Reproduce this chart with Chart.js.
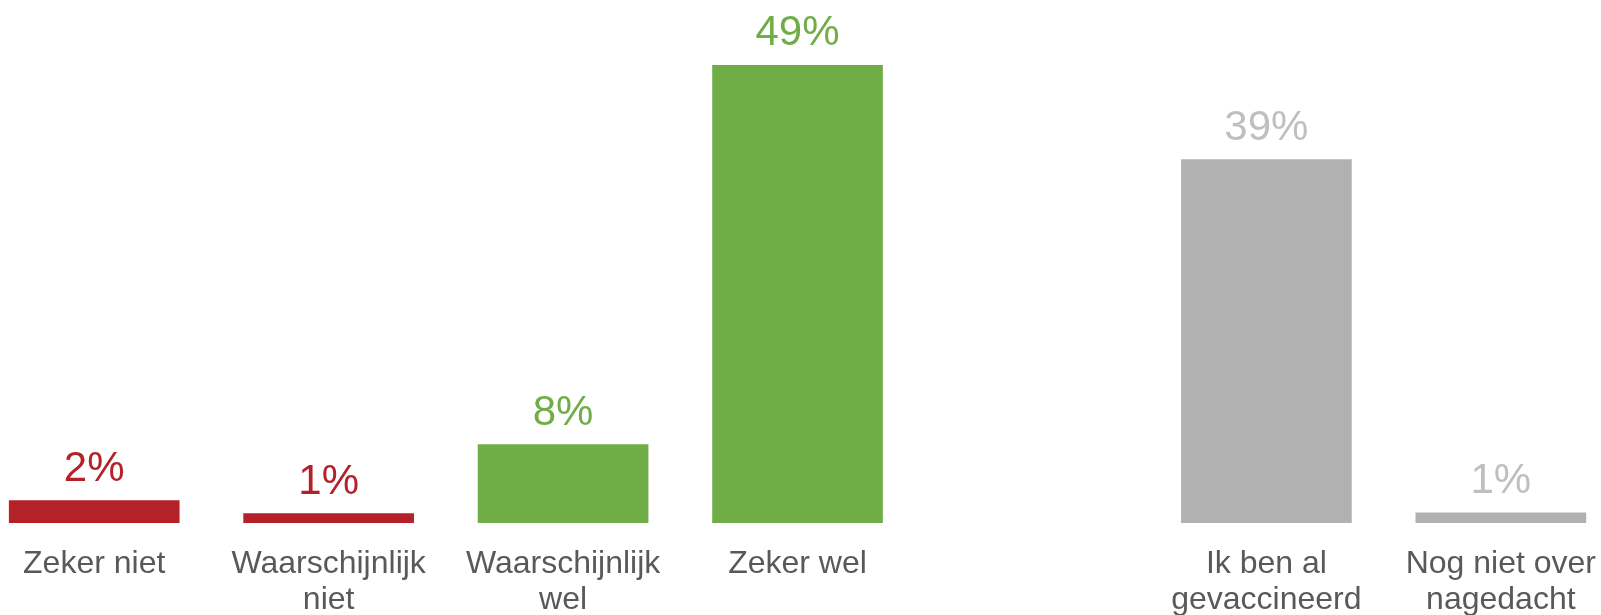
<!DOCTYPE html>
<html>
<head>
<meta charset="utf-8">
<script src="https://cdn.jsdelivr.net/npm/chart.js@4.4.1/dist/chart.umd.min.js"></script>
<style>
  html, body { margin: 0; padding: 0; background: #fff; overflow: hidden; }
  #wrap { position: absolute; left: -23px; top: 0; width: 1643px; height: 615px; }
</style>
</head>
<body>
<div id="wrap"><canvas id="grafiek"></canvas></div>
<script>
// categorieën (lege kolom tussen de twee groepen)
const categorieen = [
  ['Zeker niet'],
  ['Waarschijnlijk', 'niet'],
  ['Waarschijnlijk', 'wel'],
  ['Zeker wel'],
  [''],
  ['Ik ben al', 'gevaccineerd'],
  ['Nog niet over', 'nagedacht']
];
const percentages = [2.4, 1.0, 8.4, 49, null, 38.9, 1.1];
const etiketten = ['2%', '1%', '8%', '49%', '', '39%', '1%'];

const rood = '#B52128';
const groen = '#70AD47';
const grijs = '#B1B1B1';
const balkKleuren = [rood, rood, groen, groen, grijs, grijs, grijs];
const tekstKleuren = [rood, rood, groen, groen, '#BFBFBF', '#BFBFBF', '#BFBFBF'];

// eenvoudige plugin voor de waardes boven de balken
const waardeLabels = {
  id: 'waardeLabels',
  afterDatasetsDraw(chart) {
    const ctx = chart.ctx;
    const meta = chart.getDatasetMeta(0);
    ctx.save();
    ctx.font = '42px "Liberation Sans", Arial, sans-serif';
    ctx.textAlign = 'center';
    ctx.textBaseline = 'alphabetic';
    meta.data.forEach((bar, i) => {
      if (percentages[i] == null) return;
      ctx.fillStyle = tekstKleuren[i];
      ctx.fillText(etiketten[i], bar.x, bar.y - 20);
    });
    ctx.restore();
  }
};

const ctx = document.getElementById('grafiek').getContext('2d');
new Chart(ctx, {
  type: 'bar',
  data: {
    labels: categorieen,
    datasets: [{
      data: percentages,
      backgroundColor: balkKleuren,
      barThickness: 170
    }]
  },
  options: {
    responsive: true,
    maintainAspectRatio: false,
    animation: false,
    layout: { padding: 0 },
    plugins: {
      legend: { display: false },
      tooltip: { enabled: false }
    },
    scales: {
      x: {
        grid: { display: false, drawTicks: false },
        border: { display: false },
        ticks: {
          color: '#595959',
          font: { family: '"Liberation Sans", Arial, sans-serif', size: 32, lineHeight: 1.1 },
          padding: 24,
          maxRotation: 0,
          autoSkip: false
        },
        afterFit(scale) { scale.height = 92; }
      },
      y: {
        display: false,
        min: 0,
        max: 56
      }
    }
  },
  plugins: [waardeLabels]
});
</script>
</body>
</html>
